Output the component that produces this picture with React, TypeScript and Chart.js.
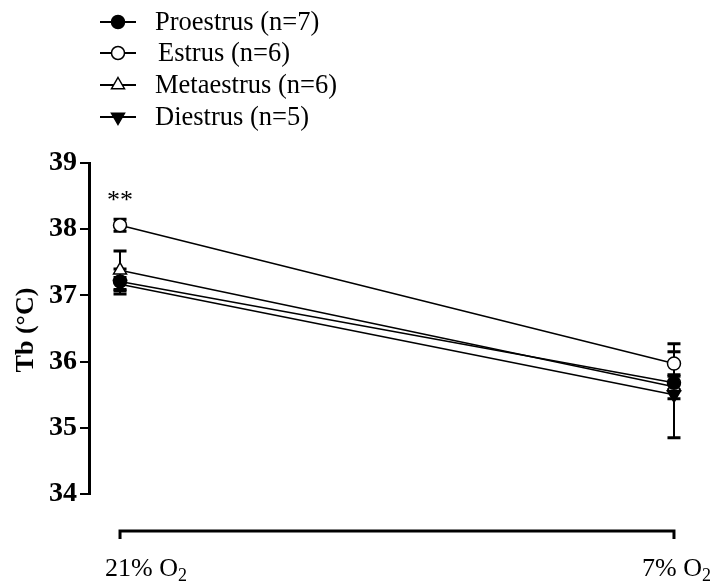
import React, { useEffect, useRef } from "react";
import { Chart, registerables } from "chart.js";

Chart.register(...registerables);

const categories = ["21% O", "7% O"];
const seriesNames = ["Proestrus (n=7)", "Estrus (n=6)", "Metaestrus (n=6)", "Diestrus (n=5)"];
const proestrus = [37.21, 35.68];
const proestrusErr = [0.19, 0.1];
const estrus = [38.06, 35.97];
const estrusErr = [0.09, 0.3];
const metaestrus = [37.38, 35.62];
const metaestrusErr = [0.29, 0.18];
const diestrus = [37.17, 35.5];
const diestrusErr = [0.1, 0.65];
const yTicks = [34, 35, 36, 37, 38, 39];
const significance = "**";

const SERIF = "'Liberation Serif', 'Times New Roman', serif";

type Style = { kind: "circle" | "tri" | "triDown"; fill: string };
const styles: Style[] = [
  { kind: "circle", fill: "#000" },
  { kind: "circle", fill: "#fff" },
  { kind: "tri", fill: "#fff" },
  { kind: "triDown", fill: "#000" },
];

function drawMarker(ctx: CanvasRenderingContext2D, s: Style, x: number, y: number) {
  ctx.save();
  ctx.lineWidth = 1.5;
  ctx.strokeStyle = "#000";
  ctx.fillStyle = s.fill;
  ctx.beginPath();
  if (s.kind === "circle") {
    ctx.arc(x, y, 6.5, 0, Math.PI * 2);
  } else if (s.kind === "tri") {
    const r = 7.5;
    ctx.moveTo(x, y - r);
    ctx.lineTo(x + r * 0.866, y + r * 0.5);
    ctx.lineTo(x - r * 0.866, y + r * 0.5);
    ctx.closePath();
  } else {
    const r = 7.5;
    ctx.moveTo(x, y + r);
    ctx.lineTo(x + r * 0.866, y - r * 0.5);
    ctx.lineTo(x - r * 0.866, y - r * 0.5);
    ctx.closePath();
  }
  ctx.fill();
  ctx.stroke();
  ctx.restore();
}

export default function App() {
  const ref = useRef<HTMLCanvasElement | null>(null);

  useEffect(() => {
    document.body.style.margin = "0";
    const canvas = ref.current;
    if (!canvas) return;

    const values = [proestrus, estrus, metaestrus, diestrus];
    const errors = [proestrusErr, estrusErr, metaestrusErr, diestrusErr];

    const mkData = (arr: number[]) => arr.map((v, i) => ({ x: i, y: v }));

    const datasets = values.map((arr, k) => ({
      label: seriesNames[k],
      data: mkData(arr),
      showLine: true,
      borderColor: "#000",
      borderWidth: 1.5,
      backgroundColor: styles[k].fill,
      pointBackgroundColor: styles[k].fill,
      pointBorderColor: "#000",
      pointBorderWidth: 1.5,
      pointRadius: styles[k].kind === "circle" ? 6.5 : 7.5,
      pointStyle: styles[k].kind === "circle" ? "circle" : "triangle",
      pointRotation: styles[k].kind === "triDown" ? 180 : 0,
    }));

    const decor = {
      id: "decor",
      beforeDatasetsDraw(chart: any) {
        const ctx = chart.ctx as CanvasRenderingContext2D;
        const xs = chart.scales.x;
        const ys = chart.scales.y;
        ctx.save();
        ctx.strokeStyle = "#000";
        values.forEach((arr, k) => {
          arr.forEach((v, i) => {
            const e = errors[k][i];
            const x = xs.getPixelForValue(i);
            const yt = ys.getPixelForValue(v + e);
            const yb = ys.getPixelForValue(v - e);
            ctx.lineWidth = 2;
            ctx.beginPath();
            ctx.moveTo(x, yt);
            ctx.lineTo(x, yb);
            ctx.stroke();
            ctx.lineWidth = 3;
            ctx.beginPath();
            ctx.moveTo(x - 6.5, yt);
            ctx.lineTo(x + 6.5, yt);
            ctx.moveTo(x - 6.5, yb);
            ctx.lineTo(x + 6.5, yb);
            ctx.stroke();
          });
        });
        ctx.restore();
      },
      afterDraw(chart: any) {
        const ctx = chart.ctx as CanvasRenderingContext2D;
        const xs = chart.scales.x;
        const ys = chart.scales.y;
        ctx.save();
        // Legend
        const rowY = [22, 53, 85, 117];
        seriesNames.forEach((name, k) => {
          const y = rowY[k];
          ctx.strokeStyle = "#000";
          ctx.lineWidth = 1.8;
          ctx.beginPath();
          ctx.moveTo(100, y);
          ctx.lineTo(136, y);
          ctx.stroke();
          drawMarker(ctx, styles[k], 118, y);
          ctx.fillStyle = "#000";
          ctx.font = `26.5px ${SERIF}`;
          ctx.textAlign = "left";
          ctx.textBaseline = "middle";
          ctx.fillText(name, k === 1 ? 158 : 155, y + 1);
        });

        // X axis bracket
        const x0 = xs.getPixelForValue(0);
        const x1 = xs.getPixelForValue(1);
        const ya = 531;
        ctx.strokeStyle = "#000";
        ctx.lineWidth = 3;
        ctx.beginPath();
        ctx.moveTo(x0, ya + 8);
        ctx.lineTo(x0, ya);
        ctx.lineTo(x1, ya);
        ctx.lineTo(x1, ya + 8);
        ctx.stroke();

        // X labels with subscript 2
        const labelLeft = [x0 - 15, x1 - 32];
        categories.forEach((c, i) => {
          ctx.font = `26px ${SERIF}`;
          ctx.textAlign = "left";
          ctx.textBaseline = "alphabetic";
          ctx.fillStyle = "#000";
          const w = ctx.measureText(c).width;
          ctx.fillText(c, labelLeft[i], 576);
          ctx.font = `18px ${SERIF}`;
          ctx.fillText("2", labelLeft[i] + w, 581);
        });

        // Y title
        ctx.save();
        ctx.translate(26, 330);
        ctx.rotate(-Math.PI / 2);
        ctx.font = `bold 26px ${SERIF}`;
        ctx.textAlign = "center";
        ctx.textBaseline = "middle";
        ctx.fillText("Tb (°C)", 0, 0);
        ctx.restore();

        // Significance
        ctx.font = `26px ${SERIF}`;
        ctx.textAlign = "center";
        ctx.textBaseline = "middle";
        ctx.fillText(significance, xs.getPixelForValue(0), ys.getPixelForValue(estrus[0]) - 24);
        ctx.restore();
      },
    };

    const chart = new Chart(canvas, {
      type: "scatter",
      data: { datasets: datasets as any },
      options: {
        animation: false,
        responsive: false,
        maintainAspectRatio: false,
        layout: { padding: { top: 163, bottom: 89, left: 0, right: 10 } },
        plugins: { legend: { display: false }, tooltip: { enabled: false } },
        scales: {
          x: {
            type: "linear",
            display: false,
            min: -0.056,
            max: 1.056,
          },
          y: {
            type: "linear",
            min: yTicks[0],
            max: yTicks[yTicks.length - 1],
            afterFit(scale: any) {
              scale.width = 89;
            },
            afterBuildTicks(scale: any) {
              scale.ticks = yTicks.map((v) => ({ value: v }));
            },
            ticks: {
              color: "#000",
              font: { family: SERIF, size: 28, weight: "bold" },
              padding: 3,
            },
            grid: {
              drawOnChartArea: false,
              drawTicks: true,
              tickLength: 9,
              color: "#000",
              lineWidth: 2,
            },
            border: { display: true, color: "#000", width: 3 },
          },
        },
      },
      plugins: [decor],
    });

    return () => chart.destroy();
  }, []);

  return (
    <div style={{ width: 715, height: 583, background: "#fff" }}>
      <canvas ref={ref} width={715} height={583} />
    </div>
  );
}
